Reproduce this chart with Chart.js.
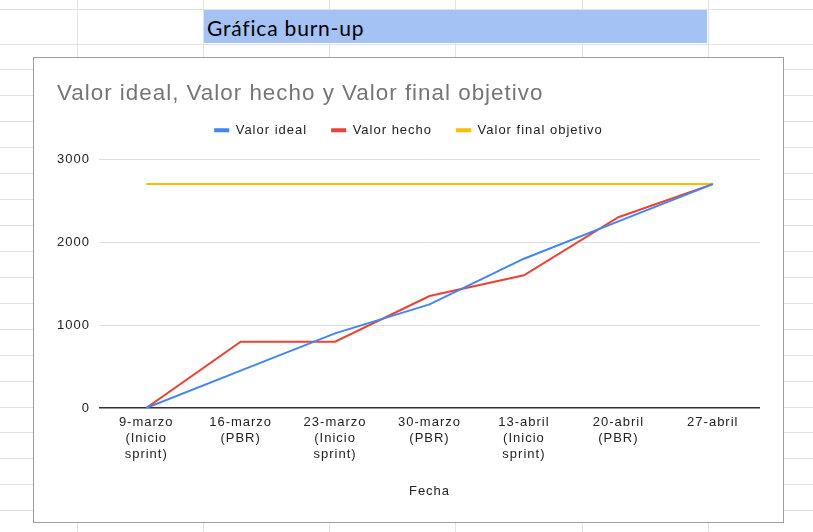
<!DOCTYPE html>
<html>
<head>
<meta charset="utf-8">
<script src="https://cdn.jsdelivr.net/npm/chart.js@4.4.0/dist/chart.umd.min.js"></script>
<style>
html,body{margin:0;padding:0;background:#fff;width:813px;height:532px;overflow:hidden;position:relative;}
.hl{position:absolute;left:0;width:813px;height:1px;background:#e2e2e3;}
.vl{position:absolute;top:0;width:1px;height:532px;background:#e2e2e3;}
#cell{position:absolute;left:204px;top:10px;width:503px;height:33px;background:#a4c2f4;}
#cell span{position:absolute;left:3px;top:7px;font-family:Lato,sans-serif;font-size:21px;letter-spacing:0.8px;line-height:21px;color:#000;white-space:nowrap;}
#box{position:absolute;left:33px;top:57px;width:749px;height:464px;border:1px solid #9e9e9e;background:#fff;}
canvas{display:block;}
</style>
</head>
<body>
<div id="grid"></div>
<div id="cell"><span>Gráfica burn-up</span></div>
<div id="box"><canvas id="c" width="749" height="464"></canvas></div>
<script>
// ---- data ----
const categoryLabels = [
  ['9-marzo', '(Inicio', 'sprint)'],
  ['16-marzo', '(PBR)'],
  ['23-marzo', '(Inicio', 'sprint)'],
  ['30-marzo', '(PBR)'],
  ['13-abril', '(Inicio', 'sprint)'],
  ['20-abril', '(PBR)'],
  ['27-abril']
];
const idealValues  = [0, 450, 900, 1250, 1800, 2250, 2700];
const doneValues   = [0, 800, 800, 1350, 1600, 2300, 2700];
const targetValues = [2700, 2700, 2700, 2700, 2700, 2700, 2700];
const yTickValues  = [0, 1000, 2000, 3000];
const seriesNames  = ['Valor ideal', 'Valor hecho', 'Valor final objetivo'];
const chartTitle   = 'Valor ideal, Valor hecho y Valor final objetivo';
const xAxisTitle   = 'Fecha';

// ---- spreadsheet background ----
const grid = document.getElementById('grid');
const rowYs = [9];
for (let k = 0; k < 20; k++) rowYs.push(Math.round(43.5 + 25.93 * k));
rowYs.forEach(y => { const d = document.createElement('div'); d.className = 'hl'; d.style.top = y + 'px'; grid.appendChild(d); });
[77, 203, 329, 455, 582, 708].forEach(x => { const d = document.createElement('div'); d.className = 'vl'; d.style.left = x + 'px'; grid.appendChild(d); });

// ---- chart ----
const FONT = "'Liberation Sans', Arial, sans-serif";
const spacing = {
  id: 'spacing',
  beforeUpdate(chart) { chart.ctx.letterSpacing = '1px'; },
  beforeLayout(chart) { chart.ctx.letterSpacing = '1px'; },
  beforeDraw(chart) { chart.ctx.letterSpacing = '1px'; }
};
const colors = ['#4285f4', '#ea4335', '#fbbc04'];
const seriesValues = [idealValues, doneValues, targetValues];

new Chart(document.getElementById('c'), {
  type: 'line',
  data: {
    labels: categoryLabels,
    datasets: seriesNames.map((name, i) => ({
      label: name,
      data: seriesValues[i],
      borderColor: colors[i],
      backgroundColor: colors[i],
      borderWidth: 2,
      pointRadius: 0,
      pointHoverRadius: 0,
      tension: 0,
      fill: false
    }))
  },
  plugins: [spacing],
  options: {
    responsive: false,
    animation: false,
    events: [],
    layout: { padding: { left: 23, right: 23, top: 0, bottom: 0 } },
    plugins: {
      title: {
        display: true, text: chartTitle, align: 'start', color: '#757575',
        font: { family: FONT, size: 22.4, weight: 'normal', lineHeight: 0.5 },
        padding: { top: 30.5, bottom: 0 }
      },
      subtitle: {
        display: true, text: '', weight: 500,
        font: { family: FONT, size: 2, lineHeight: 1 },
        padding: { top: 10.5, bottom: 0 }
      },
      legend: {
        display: true, position: 'top', align: 'center',
        labels: {
          boxWidth: 15, boxHeight: 4, padding: 24, color: '#222',
          font: { family: FONT, size: 13 },
          generateLabels(chart) {
            const items = Chart.defaults.plugins.legend.labels.generateLabels(chart);
            items.forEach(it => { it.lineWidth = 0; it.fillStyle = it.strokeStyle; });
            return items;
          }
        }
      },
      tooltip: { enabled: false }
    },
    scales: {
      x: {
        offset: true,
        grid: { display: false, drawTicks: false, offset: true },
        border: { display: false },
        ticks: { color: '#222', font: { family: FONT, size: 13, lineHeight: 1.2 }, padding: 7, maxRotation: 0, autoSkip: false },
        title: { display: true, text: xAxisTitle, color: '#222', font: { family: FONT, size: 13, lineHeight: 1.2 }, padding: { top: 0, bottom: 22.5 } },
        afterFit(s) { s.height = 114; }
      },
      y: {
        min: yTickValues[0], max: yTickValues[yTickValues.length - 1],
        afterBuildTicks(s) { s.ticks = yTickValues.map(v => ({ value: v })); },
        grid: {
          drawTicks: false,
          color: c => c.tick && c.tick.value === 0 ? '#333333' : '#dddddd',
          lineWidth: c => c.tick && c.tick.value === 0 ? 1.5 : 1
        },
        border: { display: false },
        ticks: { color: '#222', font: { family: FONT, size: 13 }, padding: 9, callback: v => String(v) },
        afterFit(s) { s.width = 42; }
      }
    }
  }
});
</script>
</body>
</html>
